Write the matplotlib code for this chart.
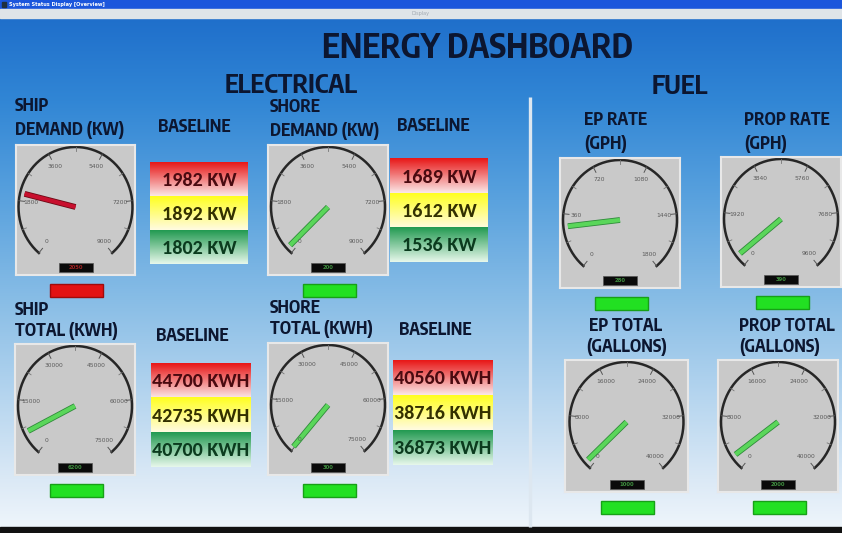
import numpy as np
import matplotlib
matplotlib.use("Agg")
import matplotlib.pyplot as plt
import matplotlib.patheffects as pe
from matplotlib.patches import Rectangle
from matplotlib.colors import to_rgb

# --- data ---
gauge_values = [2050, 200, 280, 390, 6200, 300, 1000, 2000]
gauge_max = [9000, 9000, 1800, 9600, 75000, 75000, 40000, 40000]
gauge_status = ["red", "green", "green", "green", "green", "green", "green", "green"]

ship_demand_baseline = [1982, 1892, 1802]
shore_demand_baseline = [1689, 1612, 1536]
ship_total_baseline = [44700, 42735, 40700]
shore_total_baseline = [40560, 38716, 36873]

# --- layout (pixels) ---
W, H = 842, 533
gauge_boxes = [(16, 145, 119, 130), (268, 145, 120, 130), (560, 158, 120, 130), (721, 157, 120, 130),
               (15, 344, 120, 131), (268, 343, 120, 132), (565, 360, 123, 132), (718, 360, 120, 132)]
baseline_boxes = [(150, 162, 98, 102), (390, 159, 98, 103), (151, 363, 100, 104), (393, 360, 100, 105)]

HEAD = "Encode Sans Condensed"
NUM = "Carlito"
INK = "#0c1630"
START, SWEEP = 230, 280

fig = plt.figure(figsize=(W / 100, H / 100), dpi=100)
ax = fig.add_axes([0, 0, 1, 1])
ax.axis("off")

# background
sy = [18, 100, 200, 300, 400, 480, 527]
sc = [to_rgb(c) for c in ["#1f6fcb", "#3186d5", "#5aa2de", "#88bde6", "#b7d6ef", "#dbe9f6", "#eef5fb"]]
ys = np.linspace(18, 527, 300)
grad = np.stack([np.interp(ys, sy, [c[i] for c in sc]) for i in range(3)], axis=-1)[:, None, :]
ax.imshow(grad, extent=(0, W, 527, 18), aspect="auto", interpolation="bilinear", zorder=0)
ax.add_patch(Rectangle((0, 0), W, 9, color="#1b56dc", zorder=1))
ax.add_patch(Rectangle((0, 9), W, 9, color="#dfe4e8", zorder=1))
ax.add_patch(Rectangle((0, 527), W, 6, color="#111111", zorder=1))
ax.add_patch(Rectangle((2, 2), 4, 5, color="#203040", zorder=2))
ax.text(9, 4.6, "System Status Display [Overview]", fontsize=3.6, color="white", va="center", fontweight="bold")
ax.text(421, 13.5, "Display", fontsize=3.5, color="#a0a8b0", va="center", ha="center")
ax.vlines(530, 97, 527, color="#dde7f0", lw=2.4, zorder=2)

# headings
def head(x, y, s, size, ha="left"):
    ax.text(x, y, s, fontsize=size, family=HEAD, fontweight="bold", color=INK, ha=ha, va="center")

head(477, 48, "ENERGY DASHBOARD", 24, "center")
head(291, 86, "ELECTRICAL", 18.5, "center")
head(680, 87, "FUEL", 18.5, "center")
sub = 12.3
head(15, 106, "SHIP", sub)
head(15, 130, "DEMAND (KW)", sub)
head(194, 127, "BASELINE", sub, "center")
head(270, 107, "SHORE", sub)
head(270, 131, "DEMAND (KW)", sub)
head(433, 126, "BASELINE", sub, "center")
head(584, 120, "EP RATE", sub)
head(584, 144, "(GPH)", sub)
head(744, 120, "PROP RATE", sub)
head(744, 144, "(GPH)", sub)
head(15, 310, "SHIP", sub)
head(15, 331, "TOTAL (KWH)", sub)
head(192, 336, "BASELINE", sub, "center")
head(270, 308, "SHORE", sub)
head(270, 329, "TOTAL (KWH)", sub)
head(435, 330, "BASELINE", sub, "center")
head(589, 326, "EP TOTAL", sub)
head(586, 347, "(GALLONS)", sub)
head(739, 326, "PROP TOTAL", sub)
head(739, 347, "(GALLONS)", sub)

# baseline boxes
bands = [("#e81818", "#fbe6e6", "#4a0a10"),
         ("#ffff20", "#fffbe0", "#333000"),
         ("#239a52", "#e6f7ea", "#0b3b1e")]
baselines = [ship_demand_baseline, shore_demand_baseline, ship_total_baseline, shore_total_baseline]
units = ["KW", "KW", "KWH", "KWH"]
for (bx, by, bw, bh), vals, unit in zip(baseline_boxes, baselines, units):
    hh = bh / 3
    for j, (v, (top, bot, tc)) in enumerate(zip(vals, bands)):
        t, b = np.array(to_rgb(top)), np.array(to_rgb(bot))
        f = np.linspace(0, 1, 50)[:, None]
        g = (t * (1 - f) + b * f)[:, None, :]
        y0 = by + j * hh
        ax.imshow(g, extent=(bx, bx + bw, y0 + hh, y0), aspect="auto", interpolation="bilinear", zorder=3)
        ax.text(bx + bw / 2, y0 + hh / 2 + 1, f"{v} {unit}", fontsize=14.5, family=NUM, fontweight="bold",
                color=tc, ha="center", va="center", zorder=4)
ax.set_xlim(0, W)
ax.set_ylim(H, 0)

# gauges
needle_cols = {"green": ("#5ad65a", "#2f8a3a"), "red": ("#c8102e", "#6e0a16")}
light_cols = {"green": ("#22e022", "#17a017"), "red": ("#e31212", "#a00a0a")}
for (px, py, pw, ph), val, vmax, st in zip(gauge_boxes, gauge_values, gauge_max, gauge_status):
    gax = fig.add_axes([px / W, 1 - (py + ph) / H, pw / W, ph / H])
    gax.set_xlim(0, pw)
    gax.set_ylim(0, ph)
    gax.set_facecolor("#c9c9c9")
    gax.set_xticks([])
    gax.set_yticks([])
    for s in gax.spines.values():
        s.set_color("#e8e8e8")
        s.set_linewidth(1.5)
    cx, cy, rx, ry = pw / 2, ph - 62, 57, 60
    a = np.radians(np.linspace(START, START - SWEEP, 200))
    gax.plot(cx + rx * np.cos(a), cy + ry * np.sin(a), color="#262626", lw=1.8, clip_on=False)
    ticks = np.linspace(0, vmax, 6)
    for i, t in enumerate(ticks):
        ang = np.radians(START - t / vmax * SWEEP)
        c, s = np.cos(ang), np.sin(ang)
        gax.plot([cx + 0.9 * rx * c, cx + rx * c], [cy + 0.9 * ry * s, cy + ry * s], color="#555", lw=0.7)
        gax.text(cx + 0.78 * rx * c, cy + 0.76 * ry * s, f"{int(t)}", fontsize=4.3, color="#5a5a5a",
                 ha="center", va="center")
        if i < 5:
            m = np.radians(START - (i + 0.5) / 5 * SWEEP)
            gax.plot([cx + 0.93 * rx * np.cos(m), cx + rx * np.cos(m)],
                     [cy + 0.93 * ry * np.sin(m), cy + ry * np.sin(m)], color="#777", lw=0.6)
    ang = np.radians(START - val / vmax * SWEEP)
    fc, ec = needle_cols[st]
    gax.plot([cx, cx + 0.92 * rx * np.cos(ang)], [cy, cy + 0.92 * ry * np.sin(ang)], color=fc, lw=3.0,
             solid_capstyle="butt", path_effects=[pe.Stroke(linewidth=4.2, foreground=ec), pe.Normal()])
    gax.add_patch(Rectangle((cx - 17, 3), 34, 9, facecolor="#0a0a0a", edgecolor="#555", lw=0.5))
    gax.text(cx, 7.5, f"{val}", fontsize=3.8, color="#3f8f3f" if st == "green" else "#a02020",
             ha="center", va="center", fontweight="bold")
    lf, le = light_cols[st]
    ax.add_patch(Rectangle((px + pw / 2 - 25.5, py + ph + 9), 53, 13, facecolor=lf, edgecolor=le, lw=1.0, zorder=3))

fig.savefig("out.png", dpi=100)
